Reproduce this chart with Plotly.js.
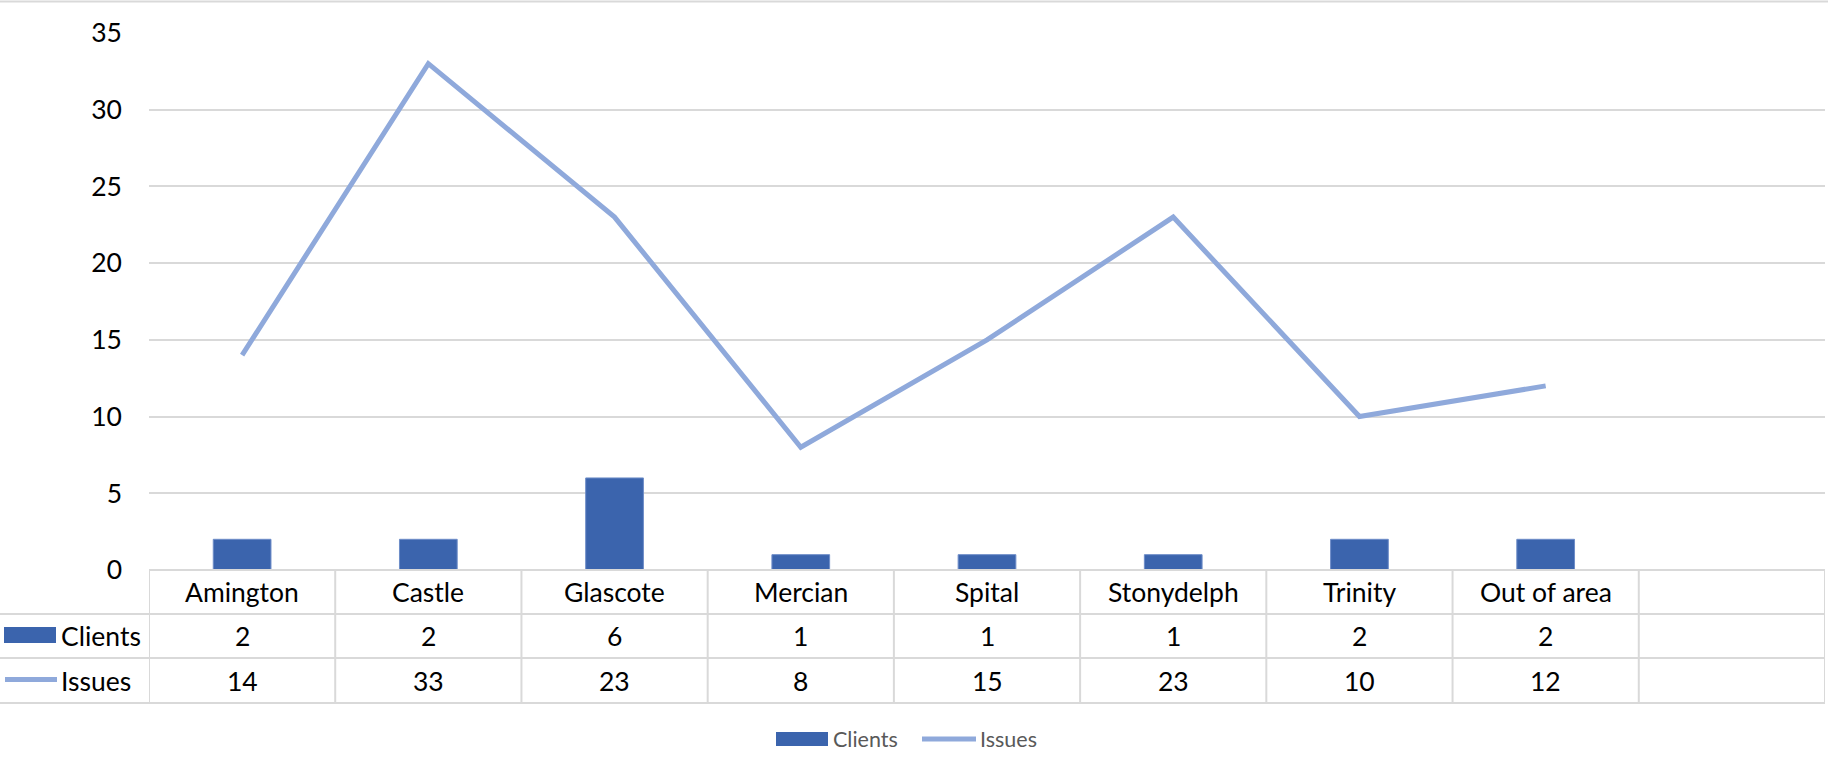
<!DOCTYPE html>
<html><head><meta charset="utf-8">
<script src="https://cdn.plot.ly/plotly-3.0.1.min.js"></script>
<style>html,body{margin:0;padding:0;background:#fff;overflow:hidden}#chart{width:1828px;height:775px}</style>
</head><body><div id="chart"></div>
<script>
const categories = ["Amington","Castle","Glascote","Mercian","Spital","Stonydelph","Trinity","Out of area"];
const clients = [2,2,6,1,1,1,2,2];
const issues = [14,33,23,8,15,23,10,12];
const yTicks = [0,5,10,15,20,25,30,35];
const seriesNames = ["Clients","Issues"];

const barColor = "#3B64AD", lineColor = "#8FA9DB", gridColor = "#D9D9D9";
const FONT = "Lato, 'Open Sans', sans-serif";
const W=1828, H=775, L=149, R=3, T=33, B=205;
const PW = W-L-R, PH = H-T-B;
const px = x => (x-L)/PW;
const py = y => (H-B-y)/PH;
const nSlots = categories.length + 1;

const traces = [
  {type:"bar", name:seriesNames[0], x:categories, y:clients, width:0.31,
   marker:{color:barColor, line:{color:"#6E8DC8", width:1}}, showlegend:false, hoverinfo:"skip"},
  {type:"scatter", mode:"lines", name:seriesNames[1], x:categories, y:issues,
   line:{color:lineColor, width:5}, showlegend:false, hoverinfo:"skip"}
];

const shapes = [];
const lineStyle = {color:gridColor, width:2};
// chart top border
shapes.push({type:"line", xref:"paper", yref:"paper", x0:px(0), x1:px(W), y0:py(1.5), y1:py(1.5), line:lineStyle});
// table horizontal lines
shapes.push({type:"line", xref:"x", yref:"paper", x0:-0.5, x1:nSlots-0.5, y0:0, y1:0, line:lineStyle});
[614, 658, 703].forEach(y => shapes.push({type:"line", xref:"paper", yref:"paper", x0:px(0), x1:px(W-R), y0:py(y), y1:py(y), line:lineStyle}));
// table vertical lines
for (let k=0; k<=nSlots; k++) {
  shapes.push({type:"line", xref:"x", yref:"paper", x0:k-0.5, x1:k-0.5, y0:0, y1:py(703), line:lineStyle});
}
// table keys
shapes.push({type:"rect", xref:"paper", yref:"paper", x0:px(4), x1:px(56), y0:py(627), y1:py(643), fillcolor:barColor, line:{width:0}});
shapes.push({type:"line", xref:"paper", yref:"paper", x0:px(5), x1:px(57), y0:py(679.5), y1:py(679.5), line:{color:lineColor, width:5}});
// legend keys
shapes.push({type:"rect", xref:"paper", yref:"paper", x0:px(776), x1:px(828), y0:py(732), y1:py(746), fillcolor:barColor, line:{width:0}});
shapes.push({type:"line", xref:"paper", yref:"paper", x0:px(922), x1:px(976), y0:py(739), y1:py(739), line:{color:lineColor, width:5}});

const annotations = [];
const tf = {family:FONT, size:26.5, color:"#000"};
categories.forEach((c,i) => {
  annotations.push({xref:"x", yref:"paper", x:i, y:py(592), text:c, showarrow:false, xanchor:"center", yanchor:"middle", font:tf});
  annotations.push({xref:"x", yref:"paper", x:i, y:py(636), text:String(clients[i]), showarrow:false, xanchor:"center", yanchor:"middle", font:tf});
  annotations.push({xref:"x", yref:"paper", x:i, y:py(680.5), text:String(issues[i]), showarrow:false, xanchor:"center", yanchor:"middle", font:tf});
});
annotations.push({xref:"paper", yref:"paper", x:px(59), y:py(636), text:seriesNames[0], showarrow:false, xanchor:"left", yanchor:"middle", font:tf});
annotations.push({xref:"paper", yref:"paper", x:px(59), y:py(680.5), text:seriesNames[1], showarrow:false, xanchor:"left", yanchor:"middle", font:tf});
const lf = {family:FONT, size:21.5, color:"#595959"};
annotations.push({xref:"paper", yref:"paper", x:px(831), y:py(739), text:seriesNames[0], showarrow:false, xanchor:"left", yanchor:"middle", font:lf});
annotations.push({xref:"paper", yref:"paper", x:px(978), y:py(739), text:seriesNames[1], showarrow:false, xanchor:"left", yanchor:"middle", font:lf});

const layout = {
  width:W, height:H, margin:{l:L, r:R, t:T, b:B, pad:0},
  paper_bgcolor:"#fff", plot_bgcolor:"#fff",
  font:{family:FONT, color:"#000"},
  showlegend:false,
  xaxis:{type:"category", range:[-0.5, nSlots-0.5], showticklabels:false, showgrid:false, zeroline:false, showline:false, ticks:"", fixedrange:true},
  yaxis:{range:[0,35], tickvals:yTicks, ticktext:yTicks.map(String), showgrid:true, gridcolor:gridColor, gridwidth:2,
         zeroline:false, showline:false, ticks:"", ticklabelstandoff:26, tickfont:{family:FONT, size:26.5, color:"#000"}, fixedrange:true},
  shapes:shapes, annotations:annotations
};
Plotly.newPlot("chart", traces, layout, {displayModeBar:false, staticPlot:true});
</script></body></html>
